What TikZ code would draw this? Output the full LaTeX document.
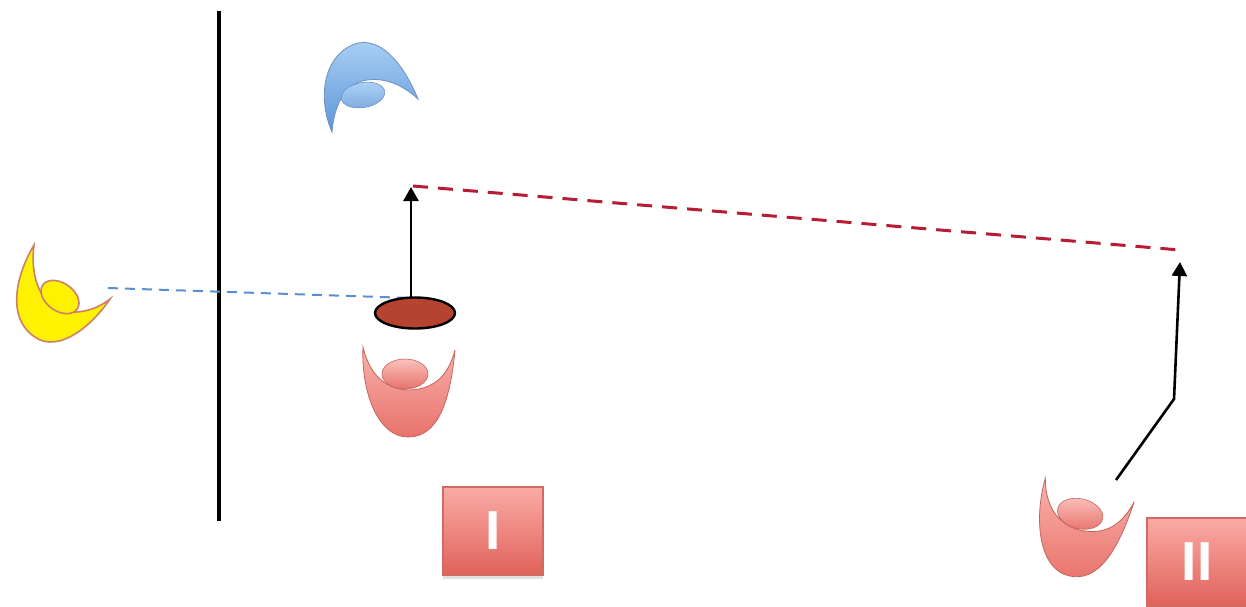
\documentclass[tikz,border=0pt]{standalone}
\usepackage{fontspec}
\setsansfont{Liberation Sans}
\usetikzlibrary{arrows.meta,shadows,shapes.geometric}

\definecolor{cupline}{HTML}{C4645E}
\definecolor{cuptop}{HTML}{F9B2AC}
\definecolor{cupbot}{HTML}{E8726B}
\definecolor{bluetop}{HTML}{A9D0F5}
\definecolor{bluebot}{HTML}{5E96D8}
\definecolor{blueline}{HTML}{6F8FB8}
\definecolor{yelline}{HTML}{CC7F6A}
\definecolor{discfill}{HTML}{B5432F}
\definecolor{reddash}{HTML}{B81C32}
\definecolor{bluedash}{HTML}{5B8FCF}
\definecolor{boxtop}{HTML}{FBABA6}
\definecolor{boxbot}{HTML}{E0625A}
\definecolor{boxline}{HTML}{D06A63}

% outline of the cup-shaped body, opening upwards, centred at the origin
\newcommand\cupoutline{(-45,-45) .. controls (-47,0) and (-30,45) .. (0,45)
  .. controls (30,45) and (42,10) .. (47,-42)
  .. controls (40,-15) and (25,-3) .. (2,-2)
  .. controls (-20,-2) and (-38,-15) .. (-45,-45) -- cycle}
\newcommand\cupball{(-3,-18) ellipse [x radius=23, y radius=15]}

\tikzset{
  pinkbody/.style={draw=cupline, line width=0.8pt, top color=cuptop, bottom color=cupbot},
  pinkball/.style={draw=cupline, line width=0.6pt, top color=cuptop!80!white, bottom color=cupbot},
  bluebody/.style={draw=blueline, line width=0.8pt, top color=bluetop, bottom color=bluebot},
  blueball/.style={draw=blueline, line width=0.6pt, top color=bluetop, bottom color=bluebot!80!white},
  yellowbody/.style={draw=yelline, line width=1.6pt, fill=yellow},
  labelbox/.style={draw=boxline, line width=1.5pt, top color=boxtop, bottom color=boxbot,
    minimum width=100pt, minimum height=88pt, inner sep=0pt, text=white,
    font=\sffamily\bfseries\fontsize{55}{55}\selectfont,
    drop shadow={opacity=0.25, shadow xshift=0pt, shadow yshift=-4pt}},
  arrowline/.style={line width=2.6pt, -{Triangle[width=15pt,length=14pt]}},
  discnode/.style={ellipse, draw=black, line width=2.4pt, fill=discfill,
    minimum width=80pt, minimum height=31pt, inner sep=0pt},
}

\begin{document}
\begin{tikzpicture}[x=1pt,y=-1pt]
\useasboundingbox (0,0) rectangle (1246,606);
\clip (0,0) rectangle (1246,606);

% vertical wall
\coordinate (walltop) at (219,11);
\coordinate (wallbot) at (219,521);
\draw[line width=3.5pt] (walltop) -- (wallbot);

% blue horn, upper left
\path[bluebody] (332,132) .. controls (316,95) and (325,52) .. (358,43)
  .. controls (385,38) and (406,70) .. (418,99)
  .. controls (402,84) and (382,76) .. (362,81)
  .. controls (345,86) and (334,105) .. (332,132) -- cycle;
\path[blueball] (363,95) ellipse [x radius=22, y radius=12.5, rotate=10];

% yellow body, left
\path[yellowbody] (34,245) .. controls (16,275) and (4,322) .. (40,340)
  .. controls (66,350) and (96,320) .. (110,299)
  .. controls (96,310) and (76,316) .. (58,309)
  .. controls (40,301) and (30,276) .. (34,245) -- cycle;
\path[yellowbody] (60,297) ellipse [x radius=21, y radius=14, rotate=-35];

% pink body below the disc
\begin{scope}[shift={(408,392)}]
  \path[pinkbody] \cupoutline;
  \path[pinkball] \cupball;
\end{scope}

% pink body, lower right
\begin{scope}[shift={(1079,532)}, rotate=-13]
  \path[pinkbody] \cupoutline;
  \path[pinkball] \cupball;
\end{scope}

% sight lines
\coordinate (eye) at (108,288);
\coordinate (disctop) at (411,298);
\coordinate (peak1) at (411,187);
\coordinate (dashA) at (413,186);
\coordinate (dashB) at (1180,250);
\draw[bluedash, line width=2pt, dash pattern=on 10pt off 7pt] (eye) -- (disctop);
\draw[reddash, line width=3pt, dash pattern=on 15pt off 10pt] (dashA) -- (dashB);

% disc
\node[discnode] (disc) at (415,313) {};

% arrows
\draw[arrowline] (disctop) -- (peak1);
\coordinate (footB) at (1116,480);
\coordinate (kneeB) at (1174,399);
\coordinate (peak2) at (1180,262);
\draw[arrowline] (footB) -- (kneeB) -- (peak2);

% labels
\node[labelbox] (boxI) at (493,531) {I};
\node[labelbox] (boxII) at (1197,562) {II};
\end{tikzpicture}
\end{document}
